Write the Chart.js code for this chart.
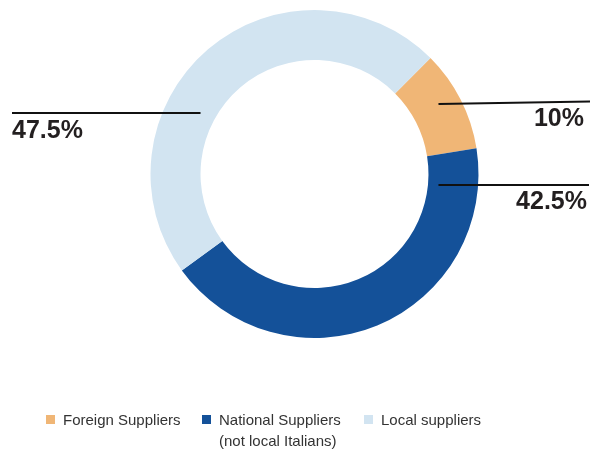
<!DOCTYPE html>
<html>
<head>
<meta charset="utf-8">
<script src="https://cdn.jsdelivr.net/npm/chart.js@4.4.1/dist/chart.umd.min.js"></script>
<style>
  html, body { margin: 0; padding: 0; background: #ffffff; }
  #wrap { position: relative; width: 596px; height: 450px; overflow: hidden; }
  #chart { position: absolute; left: 0; top: 0; }
  #legend { position: absolute; left: 0; top: 0; width: 596px; height: 450px; pointer-events: none;
            font-family: "Liberation Sans", Arial, Helvetica, sans-serif; font-size: 15px; color: #333333; }
  .item { position: absolute; top: 409px; display: flex; align-items: flex-start; }
  .box { width: 9px; height: 9px; margin-top: 6px; margin-right: 8px; flex: none; }
  .txt { line-height: 21px; white-space: nowrap; }
</style>
</head>
<body>
<div id="wrap">
  <canvas id="chart" width="596" height="450"></canvas>
  <div id="legend"></div>
</div>
<script>
// Supplier origin shares (percent of purchases)
const categories = ['Foreign Suppliers', 'National Suppliers', 'Local suppliers'];
const categoryNotes = ['', '(not local Italians)', ''];
const shares = [10, 42.5, 47.5];
const valueLabels = ['10%', '42.5%', '47.5%'];
const colors = ['#f0b676', '#145199', '#d2e4f1'];

// Leader line / value label placement, relative to the doughnut centre
const calloutLayout = [
  { side: 'right', lineY0: -70, lineY1: -72.5, lineX1: 590, textX: 584, textY: -48 },
  { side: 'right', lineY0: 11, lineY1: 11, lineX1: 589, textX: 587, textY: 35 },
  { side: 'left', lineY0: -61, lineY1: -61, lineX1: 12, textX: 12, textY: -36 }
];

const calloutPlugin = {
  id: 'callouts',
  afterDatasetsDraw(chart) {
    const ctx = chart.ctx;
    const arcs = chart.getDatasetMeta(0).data;
    ctx.save();
    arcs.forEach((arc, i) => {
      const p = calloutLayout[i];
      const cx = arc.x, cy = arc.y;
      const mid = (arc.innerRadius + arc.outerRadius) / 2;
      const x0 = p.side === 'right' ? cx + arc.innerRadius + 10 : cx - arc.innerRadius;
      ctx.strokeStyle = '#111111';
      ctx.lineWidth = 2;
      ctx.beginPath();
      ctx.moveTo(x0, cy + p.lineY0);
      ctx.lineTo(p.lineX1, cy + p.lineY1);
      ctx.stroke();
      ctx.fillStyle = '#231f20';
      ctx.font = 'bold 25px "Liberation Sans", Arial, Helvetica, sans-serif';
      ctx.textBaseline = 'alphabetic';
      ctx.textAlign = p.side === 'right' ? 'right' : 'left';
      ctx.fillText(valueLabels[i], p.textX, cy + p.textY);
    });
    ctx.restore();
  }
};

new Chart(document.getElementById('chart'), {
  type: 'doughnut',
  data: {
    labels: categories,
    datasets: [{
      data: shares,
      backgroundColor: colors,
      borderWidth: 0,
      hoverOffset: 0
    }]
  },
  options: {
    responsive: false,
    animation: false,
    rotation: 45,
    cutout: '69.5%',
    layout: { padding: { left: 150.5, top: 10, right: 117.5, bottom: 112 } },
    plugins: {
      legend: { display: false },
      tooltip: { enabled: false }
    }
  },
  plugins: [calloutPlugin]
});

// Legend
const legendX = [46, 202, 364];
const legend = document.getElementById('legend');
categories.forEach((name, i) => {
  const item = document.createElement('div');
  item.className = 'item';
  item.style.left = legendX[i] + 'px';
  const box = document.createElement('span');
  box.className = 'box';
  box.style.background = colors[i];
  const txt = document.createElement('span');
  txt.className = 'txt';
  txt.innerHTML = name + (categoryNotes[i] ? '<br>' + categoryNotes[i] : '');
  item.appendChild(box);
  item.appendChild(txt);
  legend.appendChild(item);
});
</script>
</body>
</html>
